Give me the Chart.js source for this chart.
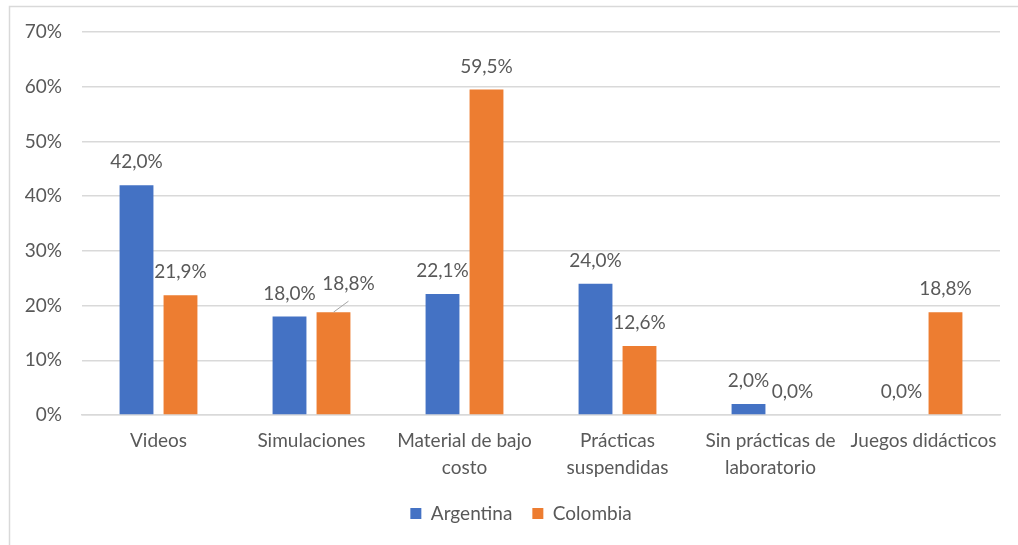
<!DOCTYPE html>
<html>
<head>
<meta charset="utf-8">
<script src="https://cdn.jsdelivr.net/npm/chart.js@4.4.1/dist/chart.umd.min.js"></script>
<style>
  html, body { margin: 0; padding: 0; background: #ffffff; }
  #wrap { width: 1018px; height: 545px; position: relative; }
</style>
</head>
<body>
<div id="wrap"><canvas id="c" width="1018" height="545"></canvas></div>
<script>
const categories = [
  "Videos",
  "Simulaciones",
  ["Material de bajo", "costo"],
  ["Prácticas", "suspendidas"],
  ["Sin prácticas de", "laboratorio"],
  "Juegos didácticos"
];
const argentina = [42.0, 18.0, 22.1, 24.0, 2.0, 0.0];
const colombia = [21.9, 18.8, 59.5, 12.6, 0.0, 18.8];
const yTicks = [0, 10, 20, 30, 40, 50, 60, 70];

const FONT = "Lato, 'Open Sans', sans-serif";
const TXT = "#595959";

const frame = {
  id: 'frame',
  beforeDraw(chart) {
    const ctx = chart.ctx;
    ctx.save();
    ctx.fillStyle = '#ffffff';
    ctx.fillRect(0, 0, chart.width, chart.height);
    ctx.strokeStyle = '#D9D9D9';
    ctx.lineWidth = 1.5;
    ctx.beginPath();
    ctx.moveTo(9.5, chart.height + 2);
    ctx.lineTo(9.5, 6.5);
    ctx.lineTo(chart.width + 2, 6.5);
    ctx.stroke();
    ctx.restore();
  }
};

const legendShift = {
  id: 'legendShift',
  afterLayout(chart) {
    if (chart.legend) {
      chart.legend.left += 21;
      chart.legend.right += 21;
    }
  }
};

const labelsPlugin = {
  id: 'valueLabels',
  afterDatasetsDraw(chart) {
    const ctx = chart.ctx;
    ctx.save();
    ctx.font = "19px " + FONT;
    ctx.fillStyle = TXT;
    ctx.textAlign = 'center';
    ctx.textBaseline = 'middle';
    chart.data.datasets.forEach((ds, di) => {
      const meta = chart.getDatasetMeta(di);
      meta.data.forEach((el, i) => {
        const v = ds.data[i];
        const txt = v.toFixed(1).replace('.', ',') + '%';
        let x = el.x, y = el.y - 23;
        if (di === 1 && i === 1) {
          x = el.x + 15;
          y = el.y - 28;
          ctx.save();
          ctx.strokeStyle = '#A6A6A6';
          ctx.lineWidth = 1;
          ctx.beginPath();
          ctx.moveTo(el.x, el.y);
          ctx.lineTo(el.x + 15, el.y - 11);
          ctx.stroke();
          ctx.restore();
        }
        ctx.fillText(txt, x, y);
      });
    });
    ctx.restore();
  }
};

new Chart(document.getElementById('c'), {
  type: 'bar',
  data: {
    labels: categories,
    datasets: [
      { label: 'Argentina', data: argentina, backgroundColor: '#4472C4', borderWidth: 0,
        categoryPercentage: 0.575, barPercentage: 0.77 },
      { label: 'Colombia', data: colombia, backgroundColor: '#ED7D31', borderWidth: 0,
        categoryPercentage: 0.575, barPercentage: 0.77 }
    ]
  },
  options: {
    responsive: false,
    animation: false,
    devicePixelRatio: 1,
    layout: { padding: { left: 0, right: 18, top: 32, bottom: 12 } },
    plugins: {
      legend: {
        position: 'bottom',
        labels: {
          font: { family: FONT, size: 19 },
          color: TXT,
          boxWidth: 11,
          boxHeight: 11,
          padding: 20
        }
      },
      tooltip: { enabled: false }
    },
    scales: {
      y: {
        min: 0, max: 70,
        afterFit(scale) { scale.width = 82; },
        afterBuildTicks(scale) { scale.ticks = yTicks.map(v => ({ value: v })); },
        ticks: {
          callback: v => v + '%',
          font: { family: FONT, size: 19 },
          color: TXT,
          padding: 20
        },
        grid: { color: '#D9D9D9', lineWidth: 1.5, drawTicks: false },
        border: { display: false }
      },
      x: {
        afterFit(scale) { scale.height = scale.height - 9; },
        ticks: {
          font: { family: FONT, size: 19, lineHeight: 1.42 },
          color: TXT,
          padding: 12,
          maxRotation: 0,
          autoSkip: false
        },
        grid: { display: false, drawTicks: false },
        border: { display: true, color: '#D9D9D9', width: 1.5 }
      }
    }
  },
  plugins: [frame, legendShift, labelsPlugin]
});
</script>
</body>
</html>
